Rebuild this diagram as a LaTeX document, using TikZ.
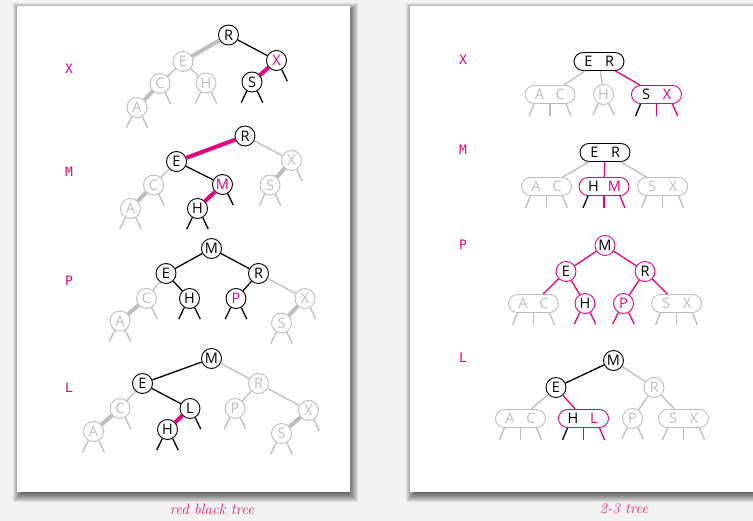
\documentclass[tikz,border=0pt]{standalone}
\usepackage{fontspec}
\newfontfamily\nodefont{Open Sans}
\newfontfamily\keyfont{DejaVu Sans Mono}
\definecolor{mag}{RGB}{230,0,126}
\definecolor{lg}{RGB}{190,190,190}
\definecolor{bg}{RGB}{243,243,243}
\definecolor{cap}{RGB}{232,30,118}
\tikzset{
  rb/.style={circle, draw=black, line width=0.9pt, minimum size=20pt, inner sep=0pt, fill=white, font=\nodefont\fontsize{14.5}{14.5}\selectfont},
  gn/.style={rb, draw=lg, text=lg},
  mc/.style={rb, draw=mag},
  pill/.style={rectangle, rounded corners=9pt, draw=black, line width=0.9pt, minimum width=50pt, minimum height=18pt, inner sep=0pt, fill=white, font=\nodefont\fontsize{14.5}{14.5}\selectfont},
  gpill/.style={pill, draw=lg, text=lg},
  mpill/.style={pill, draw=mag},
  ln/.style={line width=1.3pt},
  fat/.style={line width=4pt},
  stub/.style={line width=1.3pt},
  key/.style={text=mag, font=\keyfont\fontsize{13}{13}\selectfont},
  capt/.style={text=cap, font=\itshape\fontsize{15}{15}\selectfont}
}
\newcommand\stL[2]{\draw[stub,#2] (#1.240) -- ++(-5.5,11.5);}
\newcommand\stR[2]{\draw[stub,#2] (#1.300) -- ++(5.5,11.5);}
\newcommand\stLR[2]{\stL{#1}{#2}\stR{#1}{#2}}
\newcommand\pillstubs[4]{%
  \draw[stub,#2] (#1.south) ++(-16,0) -- ++(-5,12);
  \draw[stub,#3] (#1.south) -- ++(0,12);
  \draw[stub,#4] (#1.south) ++(16,0) -- ++(5,12);}
\newcommand\two[2]{\makebox[21pt]{#1}\makebox[21pt]{#2}}
\begin{document}
\begin{tikzpicture}[x=1pt,y=-1pt]
\useasboundingbox (0,0) rectangle (753,521);
\fill[bg] (0,0) rectangle (753,521);
% shadows
\foreach \g in {-3,...,6}{
  \fill[black,opacity=0.08] (18.5-\g,9-\g) rectangle (352+\g,495.5+\g);
  \fill[black,opacity=0.08] (411.5-\g,9-\g) rectangle (770+\g,495.5+\g);
}
\fill[white] (17,6) rectangle (350,492);
\fill[white] (410,6) rectangle (765,492);

% ---------------- left panel ----------------
\node[key] (kx1) at (69,69) {X};
\node[key] (km1) at (69,172) {M};
\node[key] (kp1) at (69,281) {P};
\node[key] (kl1) at (69,388) {L};

% section 1
\node[rb] (aR) at (228.5,35) {R};
\node[rb,text=mag] (aX) at (276.5,60.5) {X};
\node[rb] (aS) at (252,82) {S};
\node[gn] (aE) at (183,61.5) {E};
\node[gn] (aC) at (160,83.5) {C};
\node[gn] (aH) at (206,83) {H};
\node[gn] (aA) at (137,107.5) {A};
\draw[fat,lg] (aR) -- (aE);
\draw[ln] (aR) -- (aX);
\draw[fat,mag] (aX) -- (aS);
\draw[ln,lg] (aE) -- (aC);
\draw[ln,lg] (aE) -- (aH);
\draw[fat,lg] (aC) -- (aA);
\stR{aX}{black}\stLR{aS}{black}\stR{aC}{lg}\stLR{aH}{lg}\stLR{aA}{lg}

% section 2
\node[rb] (bR) at (245,136) {R};
\node[rb] (bE) at (176.5,161.5) {E};
\node[rb,text=mag] (bM) at (222.5,184.5) {M};
\node[rb] (bH) at (197.5,208.5) {H};
\node[gn] (bX) at (291.5,160.5) {X};
\node[gn] (bS) at (270,185) {S};
\node[gn] (bC) at (153.5,185) {C};
\node[gn] (bA) at (130.5,208.5) {A};
\draw[fat,mag] (bR) -- (bE);
\draw[ln,lg] (bR) -- (bX);
\draw[fat,lg] (bX) -- (bS);
\draw[ln] (bE) -- (bM);
\draw[fat,mag] (bM) -- (bH);
\draw[ln,lg] (bE) -- (bC);
\draw[fat,lg] (bC) -- (bA);
\stR{bM}{black}\stLR{bH}{black}\stR{bX}{lg}\stLR{bS}{lg}\stR{bC}{lg}\stLR{bA}{lg}

% section 3
\node[rb] (cM) at (211.5,248.5) {M};
\node[rb] (cE) at (166,273.5) {E};
\node[rb] (cR) at (258.5,273.5) {R};
\node[rb] (cH) at (189.5,298.5) {H};
\node[rb,text=mag] (cP) at (236,298.5) {P};
\node[gn] (cC) at (146.5,298.5) {C};
\node[gn] (cA) at (120,321) {A};
\node[gn] (cX) at (305,298.5) {X};
\node[gn] (cS) at (281.5,323) {S};
\draw[ln] (cM) -- (cE);
\draw[ln] (cM) -- (cR);
\draw[ln] (cE) -- (cH);
\draw[ln] (cR) -- (cP);
\draw[ln,lg] (cE) -- (cC);
\draw[fat,lg] (cC) -- (cA);
\draw[ln,lg] (cR) -- (cX);
\draw[fat,lg] (cX) -- (cS);
\stLR{cH}{black}\stLR{cP}{black}\stR{cC}{lg}\stLR{cA}{lg}\stR{cX}{lg}\stLR{cS}{lg}

% section 4
\node[rb] (dM) at (211.5,358.5) {M};
\node[rb] (dE) at (142.5,383.5) {E};
\node[rb] (dL) at (190,408.5) {L};
\node[rb] (dH) at (167.5,429.5) {H};
\node[gn] (dR) at (258.5,383.5) {R};
\node[gn] (dP) at (235,408.5) {P};
\node[gn] (dX) at (308.5,410.5) {X};
\node[gn] (dS) at (281.5,433.5) {S};
\node[gn] (dC) at (120,408.5) {C};
\node[gn] (dA) at (93.5,431.5) {A};
\draw[ln] (dM) -- (dE);
\draw[ln] (dE) -- (dL);
\draw[fat,mag] (dL) -- (dH);
\draw[ln,lg] (dM) -- (dR);
\draw[ln,lg] (dR) -- (dP);
\draw[ln,lg] (dR) -- (dX);
\draw[fat,lg] (dX) -- (dS);
\draw[ln,lg] (dE) -- (dC);
\draw[fat,lg] (dC) -- (dA);
\stR{dL}{black}\stLR{dH}{black}\stLR{dP}{lg}\stLR{dS}{lg}\stR{dX}{lg}\stLR{dA}{lg}\stR{dC}{lg}

% ---------------- right panel ----------------
\node[key] (kx2) at (463,60) {X};
\node[key] (km2) at (463,150) {M};
\node[key] (kp2) at (463,245) {P};
\node[key] (kl2) at (463,358) {L};

% section 1
\node[pill] (eER) at (599,61.5) {\two{E}{R}};
\node[gpill] (eAC) at (550,94.5) {\two{A}{C}};
\node[gn] (eH) at (603.5,94.5) {H};
\node[mpill] (eSX) at (656.5,94.5) {\two{S}{\color{mag}X}};
\draw[ln,lg] (eER) -- (eAC);
\draw[ln,lg] (eER) -- (eH);
\draw[ln,mag] (eER) -- (eSX);
\pillstubs{eAC}{lg}{lg}{lg}
\stLR{eH}{lg}
\pillstubs{eSX}{black}{mag}{mag}

% section 2
\node[pill] (fER) at (605,152.5) {\two{E}{R}};
\node[gpill] (fAC) at (546.5,186.5) {\two{A}{C}};
\node[mpill] (fHM) at (604,186.5) {\two{H}{\color{mag}M}};
\node[gpill] (fSX) at (662.5,186.5) {\two{S}{X}};
\draw[ln,lg] (fER) -- (fAC);
\draw[ln,mag] (fER) -- (fHM);
\draw[ln,lg] (fER) -- (fSX);
\pillstubs{fAC}{lg}{lg}{lg}
\pillstubs{fHM}{black}{mag}{mag}
\pillstubs{fSX}{lg}{lg}{lg}

% section 3
\node[mc] (gM) at (605,245.5) {M};
\node[mc] (gE) at (566,271.5) {E};
\node[mc] (gR) at (645,271.5) {R};
\node[gpill] (gAC) at (533.5,303.5) {\two{A}{C}};
\node[mc] (gH) at (585,303.5) {H};
\node[mc,text=mag] (gP) at (623.5,303.5) {P};
\node[gpill] (gSX) at (676.5,303.5) {\two{S}{X}};
\draw[ln,mag] (gM) -- (gE);
\draw[ln,mag] (gM) -- (gR);
\draw[ln,mag] (gE) -- (gAC);
\draw[ln,mag] (gE) -- (gH);
\draw[ln,mag] (gR) -- (gP);
\draw[ln,mag] (gR) -- (gSX);
\stLR{gH}{mag}\stLR{gP}{mag}
\pillstubs{gAC}{lg}{lg}{lg}
\pillstubs{gSX}{lg}{lg}{lg}

% section 4
\node[rb] (hM) at (613.5,360.5) {M};
\node[rb] (hE) at (556,387.5) {E};
\node[gn] (hR) at (654,387.5) {R};
\node[gpill] (hAC) at (520.5,418.5) {\two{A}{C}};
\node[mpill] (hHL) at (583.5,418.5) {\two{H}{\color{mag}L}};
\node[gn] (hP) at (632.5,418.5) {P};
\node[gpill] (hSX) at (683.5,418.5) {\two{S}{X}};
\draw[ln] (hM) -- (hE);
\draw[ln,lg] (hM) -- (hR);
\draw[ln,lg] (hE) -- (hAC);
\draw[ln,mag] (hE) -- (hHL);
\draw[ln,lg] (hR) -- (hP);
\draw[ln,lg] (hR) -- (hSX);
\pillstubs{hAC}{lg}{lg}{lg}
\pillstubs{hHL}{black}{mag}{mag}
\stLR{hP}{lg}
\pillstubs{hSX}{lg}{lg}{lg}

% captions
\node[capt] (c1) at (212,509) {red black tree};
\node[capt] (c2) at (624,509) {2-3 tree};
\end{tikzpicture}
\end{document}
